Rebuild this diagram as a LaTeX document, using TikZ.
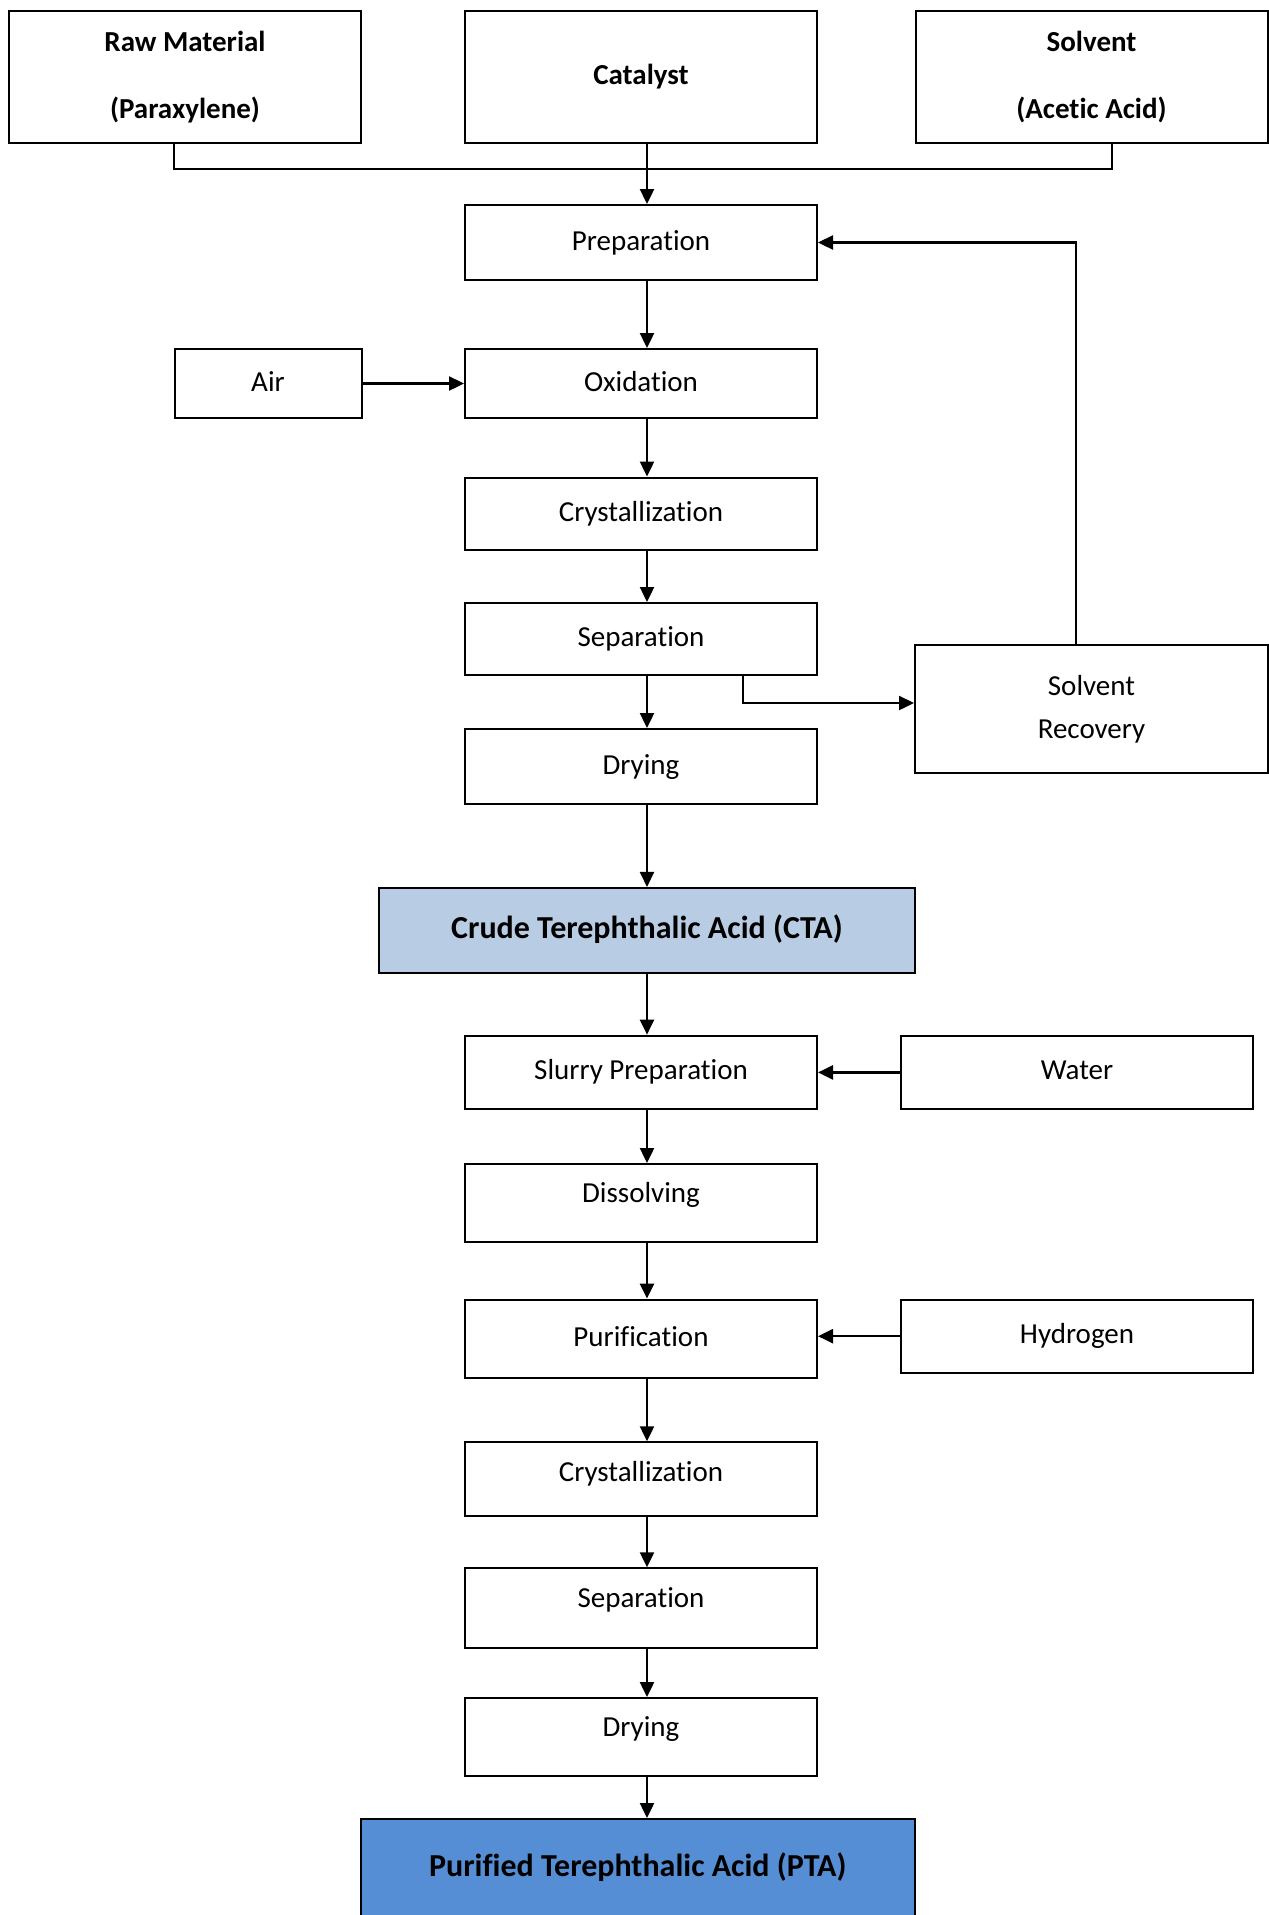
\documentclass[tikz,border=0pt]{standalone}
\usepackage{fontspec}
\setmainfont{Carlito}[Ligatures=NoCommon]
\usetikzlibrary{arrows.meta}
\definecolor{ctablue}{HTML}{B8CCE4}
\definecolor{ptablue}{HTML}{558ED5}

\begin{document}
\begin{tikzpicture}[x=1pt,y=-1pt,
  blk/.style={draw,line width=2pt,inner sep=0pt,align=center,minimum width=352pt},
  unit/.style={blk,font=\fontsize{29pt}{35pt}\selectfont,text height=21pt,text depth=6pt},
  raised/.style={text depth=#1},
  raised/.default=23pt,
  feed/.style={blk,minimum height=132pt,font=\fontsize{29pt}{67pt}\selectfont\bfseries},
  product/.style={blk,font=\fontsize{32pt}{38pt}\selectfont\bfseries,text height=23pt,text depth=7pt},
  flow/.style={line width=2.4pt,-{Triangle[length=15pt,width=14pt]}},
  link/.style={line width=2pt}]
  \useasboundingbox (0,0) rectangle (1269,1915);
  % feed boxes
  \node[feed] (raw) at (185,77) {Raw Material\\(Paraxylene)};
  \node[feed] (cat) at (641,77) {Catalyst};
  \node[feed] (sol) at (1091.5,77) {Solvent\\(Acetic Acid)};
  % first stage
  \node[unit,minimum height=75pt] (prep) at (641,242.5) {Preparation};
  \node[unit,minimum width=187pt,minimum height=69pt] (air) at (268,383.5) {Air};
  \node[unit,minimum height=69pt] (ox) at (641,383.5) {Oxidation};
  \node[unit,minimum height=72pt] (cry) at (641,513.5) {Crystallization};
  \node[unit,minimum height=72pt] (sep) at (641,639) {Separation};
  \node[unit,minimum height=75pt] (dry) at (641,766.5) {Drying};
  \node[blk,minimum width=353pt,minimum height=128pt,
    font=\fontsize{29pt}{43pt}\selectfont] (rec) at (1091.5,709) {Solvent\\Recovery};
  \node[product,fill=ctablue,minimum width=536pt,minimum height=85.5pt] (cta) at (647,930.7) {Crude Terephthalic Acid (CTA)};
  % second stage
  \node[unit,minimum height=73.5pt] (slurry) at (641,1072.4) {Slurry Preparation};
  \node[unit,minimum height=73.5pt] (water) at (1077,1072.4) {Water};
  \node[unit,raised,minimum height=78pt] (diss) at (641,1203) {Dissolving};
  \node[unit,minimum height=78pt] (pur) at (641,1338.6) {Purification};
  \node[unit,minimum height=73pt] (hyd) at (1077,1336.2) {Hydrogen};
  \node[unit,raised=17pt,minimum height=73.5pt] (cryb) at (641,1479) {Crystallization};
  \node[unit,raised,minimum height=79.5pt] (sepb) at (641,1608) {Separation};
  \node[unit,raised,minimum height=78pt] (dryb) at (641,1737) {Drying};
  \node[product,fill=ptablue,minimum width=554pt,minimum height=98pt] (pta) at (637.8,1868) {Purified Terephthalic Acid (PTA)};

  \coordinate (ax) at (647,0);
  \coordinate (jl) at (174.3,169.3);
  \coordinate (jr) at (1111.5,169.3);
  \coordinate (sx) at (743,703);
  \coordinate (rx) at (1076,242.5);
  % feeds join
  \draw[link] (raw.south -| jl) -- (jl) -- (jr) -- (sol.south -| jr);
  \draw[flow] (cat.south -| ax) -- (prep.north -| ax);
  % main line
  \foreach \a/\b in {prep/ox,ox/cry,cry/sep,sep/dry,dry/cta,cta/slurry,slurry/diss,
    diss/pur,pur/cryb,cryb/sepb,sepb/dryb,dryb/pta}
    \draw[flow] (\a.south -| ax) -- (\b.north -| ax);
  % side streams
  \draw[flow] (air) -- (ox);
  \draw[flow] (water) -- (slurry);
  \draw[flow] (hyd.west) -- (hyd.west -| pur.east);
  \draw[flow] (sep.south -| sx) -- (sx) -- (sx -| rec.west);
  \draw[flow] (rec.north -| rx) -- (rx) -- (prep.east);
\end{tikzpicture}
\end{document}
